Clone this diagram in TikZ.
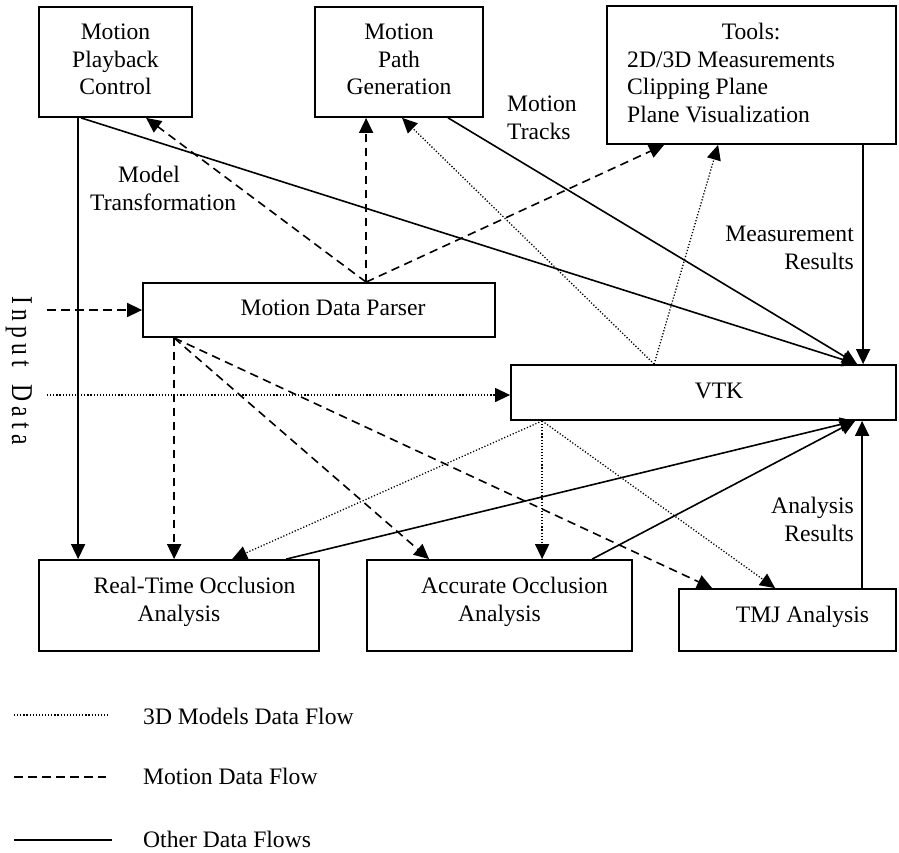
\documentclass[tikz,border=0pt]{standalone}
\usepackage{fontspec}
\usepackage{graphicx}
\setmainfont{Liberation Serif}
\usetikzlibrary{arrows.meta,calc}
\newcommand\lspc{\kern5.3pt}
\begin{document}
\begin{tikzpicture}[x=1pt,y=-1pt,
  font=\fontsize{23.6}{27.5}\selectfont,
  box/.style={draw, rectangle, line width=1.8pt, inner sep=0pt},
  txt/.style={inner sep=0pt},
  solidc/.style={line width=1.6pt},
  dashc/.style={line width=1.6pt, dash pattern=on 8.5pt off 5.5pt},
  dotc/.style={line width=1.3pt, dash pattern=on 1.2pt off 1.9pt},
  tip/.style={-{Triangle[length=15pt,width=14pt]}}]
\useasboundingbox (0,0) rectangle (899,852);

% boxes
\node[box, minimum width=153pt, minimum height=110pt] (play) at (115.5,62) {};
\node[box, minimum width=168pt, minimum height=110pt] (path) at (399,62) {};
\node[box, minimum width=289pt, minimum height=138pt] (tools) at (751.5,75) {};
\node[box, minimum width=352pt, minimum height=54pt] (parser) at (319,310) {};
\node[box, minimum width=385pt, minimum height=55pt] (vtk) at (703.5,392.5) {};
\node[box, minimum width=280pt, minimum height=91pt] (rt) at (179,605.5) {};
\node[box, minimum width=265pt, minimum height=91pt] (acc) at (499.5,605.5) {};
\node[box, minimum width=217pt, minimum height=62pt] (tmj) at (787.5,620) {};

% box texts
\node[txt, align=center, anchor=north] (playt) at (115.5,24) {Motion\\Playback\\Control};
\node[txt, align=center, anchor=north] (patht) at (399,24) {Motion\\Path\\Generation};
\node[txt, align=left, anchor=north west] (toolst) at (627,23) {\hspace*{94.6pt}Tools:\\2D/3D Measurements\\Clipping Plane\\Plane Visualization};
\node[txt, anchor=base] (parsert) at (333,315) {Motion Data Parser};
\node[txt, anchor=base] (vtkt) at (719,398) {VTK};
\node[txt, align=center, anchor=north] (rtt) at (179,577) {\hspace*{31pt}Real-Time Occlusion\\Analysis};
\node[txt, align=center, anchor=north] (acct) at (499.5,577) {\hspace*{30pt}Accurate Occlusion\\Analysis};
\node[txt, anchor=base] (tmjt) at (802.5,622) {TMJ Analysis};

% labels
\node[txt, align=left, anchor=north west] (modl) at (90,166) {\hspace*{28pt}Model\\Transformation};
\node[txt, align=left, anchor=north west] (trkl) at (507,96) {Motion\\Tracks};
\node[txt, align=right, anchor=north east] (meal) at (854,226) {Measurement\\Results};
\node[txt, align=right, anchor=north east] (anal) at (854,497) {Analysis\\Results};
\node[txt, rotate=-90] (inpl) at (18.75,370.5) {\scalebox{1}[1.28]{I\lspc n\lspc p\lspc u\lspc t\lspc\ \lspc D\lspc a\lspc t\lspc a}};

% connection points
\coordinate (pt) at ([xshift=224pt]parser.north west);
\coordinate (pb) at ([xshift=32pt]parser.south west);
\coordinate (vt) at ([xshift=144pt]vtk.north west);
\coordinate (vb) at ([xshift=32pt]vtk.south west);
\coordinate (vtr) at ([xshift=347pt]vtk.north west);
\coordinate (vbr) at ([xshift=345pt]vtk.south west);
\coordinate (in1) at (47,310);
\coordinate (in2) at (47,395);

% solid flows
\draw[solidc, tip] ([xshift=40pt]play.south west) -- ([xshift=40pt]rt.north west);
\draw[solidc, tip] ([xshift=43pt]play.south west) -- (vtr);
\draw[solidc, tip] ([xshift=134pt]path.south west) -- (vtr);
\draw[solidc, tip] ([xshift=257pt]tools.south west) -- ([xshift=353pt]vtk.north west);
\draw[solidc, tip] ([xshift=248pt]rt.north west) -- (vbr);
\draw[solidc, tip] ([xshift=226pt]acc.north west) -- (vbr);
\draw[solidc, tip] ([xshift=184pt]tmj.north west) -- ([xshift=352pt]vtk.south west);

% motion data flows (dashed)
\draw[dashc, tip] (pt) -- ([xshift=52pt]path.south west);
\draw[dashc, tip] (pt) -- ([xshift=108pt]play.south west);
\draw[dashc, tip] (pt) -- ([xshift=58pt]tools.south west);
\draw[dashc, tip] (in1) -- (parser.west |- in1);
\draw[dashc, tip] (pb) -- ([xshift=136pt]rt.north west);
\draw[dashc, tip] (pb) -- ([xshift=63pt]acc.north west);
\draw[dashc, tip] (pb) -- ([xshift=34pt]tmj.north west);

% 3D model data flows (dotted)
\draw[dotc, tip] (vt) -- ([xshift=88pt]path.south west);
\draw[dotc, tip] (vt) -- ([xshift=112pt]tools.south west);
\draw[dotc, tip] (in2) -- (vtk.west |- in2);
\draw[dotc, tip] (vb) -- ([xshift=194pt]rt.north west);
\draw[dotc, tip] (vb) -- ([xshift=176pt]acc.north west);
\draw[dotc, tip] (vb) -- ([xshift=97pt]tmj.north west);

% legend
\coordinate (l1a) at (14,715); \coordinate (l1b) at (108,715);
\coordinate (l2a) at (14,777); \coordinate (l2b) at (106,777);
\coordinate (l3a) at (14,840); \coordinate (l3b) at (112,840);
\draw[dotc] (l1a) -- (l1b);
\draw[dashc] (l2a) -- (l2b);
\draw[solidc, line width=1.9pt] (l3a) -- (l3b);
\node[txt, anchor=base west] (lg1) at (143,724) {3D Models Data Flow};
\node[txt, anchor=base west] (lg2) at (143,784) {Motion Data Flow};
\node[txt, anchor=base west] (lg3) at (143,847) {Other Data Flows};
\end{tikzpicture}
\end{document}
